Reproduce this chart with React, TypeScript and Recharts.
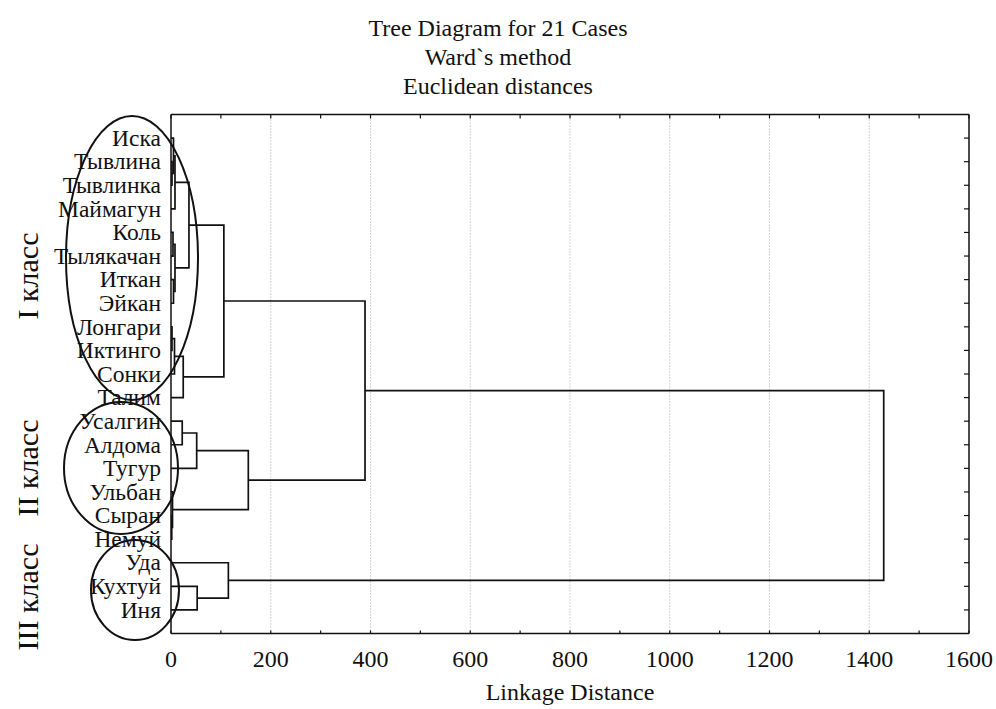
import * as React from 'react';
import { ScatterChart, Scatter, XAxis, YAxis, ReferenceLine } from 'recharts';

const FONT = '"Liberation Serif", "Times New Roman", serif';

const TITLE = ['Tree Diagram for 21 Cases', 'Ward`s method', 'Euclidean distances'];

const LEAVES = [
  'Иска', 'Тывлина', 'Тывлинка', 'Маймагун', 'Коль', 'Тылякачан', 'Иткан',
  'Эйкан', 'Лонгари', 'Иктинго', 'Сонки', 'Талим', 'Усалгин', 'Алдома',
  'Тугур', 'Ульбан', 'Сыран', 'Немуй', 'Уда', 'Кухтуй', 'Иня',
];

// [left child, right child, linkage distance]; '#n' is the cluster made at step n
const MERGES: [string, string, number][] = [
  ['Тывлина', 'Тывлинка', 2],
  ['Иска', '#0', 5],
  ['#1', 'Маймагун', 8],
  ['Коль', 'Тылякачан', 4],
  ['Иткан', 'Эйкан', 5],
  ['#3', '#4', 8],
  ['#2', '#5', 36],
  ['Лонгари', 'Иктинго', 2],
  ['#7', 'Сонки', 7],
  ['#8', 'Талим', 24.5],
  ['#6', '#9', 106],
  ['Сыран', 'Немуй', 1.5],
  ['Ульбан', '#11', 3],
  ['Усалгин', 'Алдома', 22.5],
  ['#13', 'Тугур', 51.5],
  ['#14', '#12', 155],
  ['#10', '#15', 389],
  ['Кухтуй', 'Иня', 52.5],
  ['Уда', '#17', 115],
  ['#16', '#18', 1429],
];

const X_TICKS = [0, 100, 200, 300, 400, 500, 600, 700, 800, 900, 1000, 1100, 1200, 1300, 1400, 1500, 1600];
const X_LABELS = [0, 200, 400, 600, 800, 1000, 1200, 1400, 1600];
const GRID_X = [200, 400, 600, 800, 1000, 1200, 1400];
const LEAF_TICKS = LEAVES.map((_, i) => i + 1);

const CLASSES = ['I класс', 'II класс', 'III класс'];

type Pt = { x: number; y: number };

function buildLinks(): Pt[][] {
  const pos = new Map<string, { y: number; d: number }>();
  LEAVES.forEach((n, i) => pos.set(n, { y: i + 1, d: 0 }));
  return MERGES.map(([a, b, d], i) => {
    const A = pos.get(a)!;
    const B = pos.get(b)!;
    pos.set('#' + i, { y: (A.y + B.y) / 2, d });
    return [
      { x: A.d, y: A.y },
      { x: d, y: A.y },
      { x: d, y: B.y },
      { x: B.d, y: B.y },
    ];
  });
}

const BottomTick = (props: any) => {
  const { x, y, payload } = props;
  const v = payload.value as number;
  return (
    <g>
      <line x1={x} y1={y} x2={x} y2={y - 3} stroke="#111" strokeWidth={1.2} />
      {X_LABELS.includes(v) && (
        <text x={x} y={y + 33} textAnchor="middle" fontSize={24} fontFamily={FONT} fill="#111">
          {v}
        </text>
      )}
    </g>
  );
};

const TopTick = (props: any) => {
  const { x, y } = props;
  return <line x1={x} y1={y} x2={x} y2={y + 4} stroke="#111" strokeWidth={1.2} />;
};

const RightTick = (props: any) => {
  const { x, y } = props;
  return <line x1={x} y1={y} x2={x - 5} y2={y} stroke="#111" strokeWidth={1.2} />;
};

const LeafTick = (props: any) => {
  const { x, y, payload } = props;
  return (
    <text x={x} y={y} dy="0.33em" textAnchor="end" fontSize={23.5} fontFamily={FONT} fill="#111">
      {LEAVES[payload.value - 1]}
    </text>
  );
};

const noDot = () => <g />;

export default function App() {
  const links = React.useMemo(buildLinks, []);
  const root = links[links.length - 1];

  return (
    <div style={{ position: 'absolute', left: 0, top: 0, width: 996, height: 709, background: '#fff' }}>
      <ScatterChart width={996} height={709} margin={{ top: 113.5, right: 26, bottom: 0, left: 0 }}>
        <XAxis
          type="number"
          dataKey="x"
          domain={[0, 1600]}
          ticks={X_TICKS}
          interval={0}
          allowDataOverflow
          height={75.5}
          tickSize={0}
          tickMargin={0}
          tickLine={false}
          tick={BottomTick}
          axisLine={{ stroke: '#111', strokeWidth: 1.5 }}
        />
        <XAxis
          xAxisId="top"
          orientation="top"
          type="number"
          dataKey="x"
          domain={[0, 1600]}
          ticks={X_TICKS}
          interval={0}
          allowDataOverflow
          height={1}
          tickSize={0}
          tickMargin={0}
          tickLine={false}
          tick={TopTick}
          axisLine={{ stroke: '#111', strokeWidth: 1.5 }}
        />
        <YAxis
          type="number"
          dataKey="y"
          domain={[0, 22]}
          reversed
          ticks={LEAF_TICKS}
          interval={0}
          allowDataOverflow
          width={171}
          tickSize={0}
          tickMargin={10}
          tickLine={false}
          tick={LeafTick}
          axisLine={{ stroke: '#111', strokeWidth: 1.5 }}
        />
        <YAxis
          yAxisId="right"
          orientation="right"
          type="number"
          dataKey="y"
          domain={[0, 22]}
          reversed
          ticks={LEAF_TICKS}
          interval={0}
          allowDataOverflow
          width={1}
          tickSize={0}
          tickMargin={0}
          tickLine={false}
          tick={RightTick}
          axisLine={{ stroke: '#111', strokeWidth: 1.5 }}
        />
        {GRID_X.map((v) => (
          <ReferenceLine key={v} x={v} stroke="#aaa" strokeDasharray="1 2" strokeWidth={1} />
        ))}
        {links.map((pts, i) => (
          <Scatter
            key={i}
            data={pts}
            line={{ stroke: '#111', strokeWidth: 1.7 }}
            lineType="joint"
            shape={noDot}
            isAnimationActive={false}
          />
        ))}
        {/* binds the frame axes (top/right) so they get drawn */}
        <Scatter
          xAxisId="top"
          yAxisId="right"
          data={root}
          shape={noDot}
          isAnimationActive={false}
        />
      </ScatterChart>

      <svg
        width={996}
        height={709}
        style={{ position: 'absolute', left: 0, top: 0, pointerEvents: 'none' }}
        fontFamily={FONT}
      >
        {TITLE.map((t, i) => (
          <text key={t} x={498} y={36 + i * 29} textAnchor="middle" fontSize={24} fill="#111">
            {t}
          </text>
        ))}
        <text x={570} y={700} textAnchor="middle" fontSize={24} fill="#111">
          Linkage Distance
        </text>
        {/* class outlines */}
        <ellipse cx={132} cy={258} rx={66} ry={142} fill="none" stroke="#111" strokeWidth={2} />
        <ellipse cx={121} cy={468} rx={57} ry={66} fill="none" stroke="#111" strokeWidth={2} />
        <ellipse cx={135} cy={590} rx={44} ry={50} fill="none" stroke="#111" strokeWidth={2} />
        {CLASSES.map((c, i) => (
          <text
            key={c}
            transform={`translate(27,${[276, 468, 597][i]}) rotate(-90)`}
            dy="0.35em"
            textAnchor="middle"
            fontSize={30}
            fill="#111"
          >
            {c}
          </text>
        ))}
      </svg>
    </div>
  );
}
